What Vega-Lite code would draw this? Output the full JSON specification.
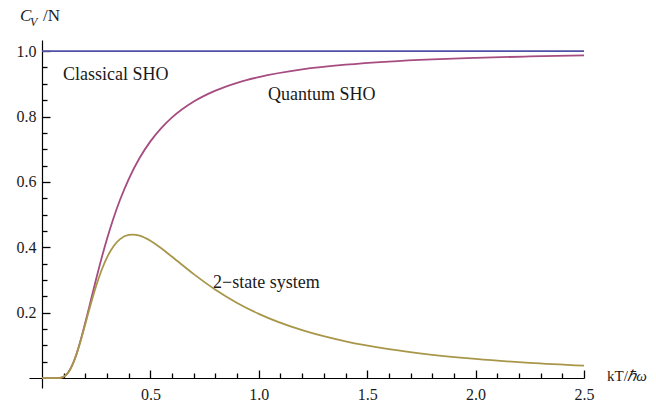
{
  "$schema": "https://vega.github.io/schema/vega-lite/v6.json",
  "width": 555,
  "height": 348,
  "autosize": {"type": "none"},
  "padding": {"left": 29, "top": 40, "right": 72, "bottom": 19},
  "background": "white",
  "config": {
    "view": {"stroke": null},
    "axis": {
      "grid": false,
      "labelFont": "Liberation Serif",
      "labelFontSize": 16,
      "labelColor": "#1a1a1a",
      "domainColor": "#000000",
      "tickColor": "#000000",
      "domainWidth": 1.2,
      "tickWidth": 1.3
    }
  },
  "resolve": {"axis": {"x": "independent", "y": "independent"}},
  "datasets": {
    "curves": [
      {"t": 0, "c": 1, "s": "classical"},
      {"t": 2.5, "c": 1, "s": "classical"},
      {"t": 0, "c": 0, "s": "quantum"},
      {"t": 0.05, "c": 0, "s": "quantum"},
      {"t": 0.08, "c": 0.0006, "s": "quantum"},
      {"t": 0.1, "c": 0.00454, "s": "quantum"},
      {"t": 0.12, "c": 0.0167, "s": "quantum"},
      {"t": 0.14, "c": 0.0404, "s": "quantum"},
      {"t": 0.16, "c": 0.0757, "s": "quantum"},
      {"t": 0.18, "c": 0.12025, "s": "quantum"},
      {"t": 0.2, "c": 0.17074, "s": "quantum"},
      {"t": 0.22, "c": 0.22405, "s": "quantum"},
      {"t": 0.25, "c": 0.30409, "s": "quantum"},
      {"t": 0.28, "c": 0.37967, "s": "quantum"},
      {"t": 0.3, "c": 0.42625, "s": "quantum"},
      {"t": 0.33, "c": 0.4897, "s": "quantum"},
      {"t": 0.36, "c": 0.54547, "s": "quantum"},
      {"t": 0.4, "c": 0.60889, "s": "quantum"},
      {"t": 0.45, "c": 0.67316, "s": "quantum"},
      {"t": 0.5, "c": 0.72406, "s": "quantum"},
      {"t": 0.55, "c": 0.7647, "s": "quantum"},
      {"t": 0.6, "c": 0.79745, "s": "quantum"},
      {"t": 0.7, "c": 0.84594, "s": "quantum"},
      {"t": 0.8, "c": 0.87937, "s": "quantum"},
      {"t": 0.9, "c": 0.9032, "s": "quantum"},
      {"t": 1.0, "c": 0.92067, "s": "quantum"},
      {"t": 1.2, "c": 0.94408, "s": "quantum"},
      {"t": 1.4, "c": 0.95852, "s": "quantum"},
      {"t": 1.6, "c": 0.96808, "s": "quantum"},
      {"t": 1.8, "c": 0.97469, "s": "quantum"},
      {"t": 2.0, "c": 0.97943, "s": "quantum"},
      {"t": 2.25, "c": 0.9837, "s": "quantum"},
      {"t": 2.5, "c": 0.98677, "s": "quantum"},
      {"t": 0, "c": 0, "s": "two"},
      {"t": 0.05, "c": 0, "s": "two"},
      {"t": 0.08, "c": 0.0006, "s": "two"},
      {"t": 0.1, "c": 0.00454, "s": "two"},
      {"t": 0.12, "c": 0.01668, "s": "two"},
      {"t": 0.14, "c": 0.04027, "s": "two"},
      {"t": 0.16, "c": 0.07512, "s": "two"},
      {"t": 0.18, "c": 0.1184, "s": "two"},
      {"t": 0.2, "c": 0.1662, "s": "two"},
      {"t": 0.22, "c": 0.21474, "s": "two"},
      {"t": 0.25, "c": 0.28261, "s": "two"},
      {"t": 0.28, "c": 0.33927, "s": "two"},
      {"t": 0.3, "c": 0.36955, "s": "two"},
      {"t": 0.33, "c": 0.40361, "s": "two"},
      {"t": 0.36, "c": 0.42523, "s": "two"},
      {"t": 0.4, "c": 0.43815, "s": "two"},
      {"t": 0.42, "c": 0.43917, "s": "two"},
      {"t": 0.45, "c": 0.43563, "s": "two"},
      {"t": 0.5, "c": 0.41997, "s": "two"},
      {"t": 0.55, "c": 0.39719, "s": "two"},
      {"t": 0.6, "c": 0.3712, "s": "two"},
      {"t": 0.7, "c": 0.31826, "s": "two"},
      {"t": 0.8, "c": 0.27047, "s": "two"},
      {"t": 0.9, "c": 0.23004, "s": "two"},
      {"t": 1.0, "c": 0.19661, "s": "two"},
      {"t": 1.2, "c": 0.14664, "s": "two"},
      {"t": 1.4, "c": 0.11257, "s": "two"},
      {"t": 1.6, "c": 0.08871, "s": "two"},
      {"t": 1.8, "c": 0.0715, "s": "two"},
      {"t": 2.0, "c": 0.05875, "s": "two"},
      {"t": 2.25, "c": 0.04702, "s": "two"},
      {"t": 2.5, "c": 0.03844, "s": "two"}
    ],
    "labels": [
      {"t": 0.097, "c": 0.9266, "label": "Classical SHO"},
      {"t": 1.042, "c": 0.8654, "label": "Quantum SHO"},
      {"t": 0.789, "c": 0.2905, "label": "2\u2212state system"}
    ]
  },
  "layer": [
    {
      "data": {"name": "curves"},
      "transform": [{"filter": "datum.s === 'classical'"}],
      "mark": {"type": "line", "color": "#5050a6", "strokeWidth": 1.8, "clip": false},
      "encoding": {
        "x": {
          "field": "t",
          "type": "quantitative",
          "scale": {"domain": [-0.06, 2.5], "nice": false, "zero": false},
          "axis": {
            "orient": "bottom",
            "title": null,
            "offset": -10,
            "values": [0.5, 1.0, 1.5, 2.0, 2.5],
            "format": ".1f",
            "tickSize": -8,
            "labelPadding": 16,
            "labelFlush": false,
            "labelOverlap": false
          }
        },
        "y": {
          "field": "c",
          "type": "quantitative",
          "scale": {"domain": [-0.03, 1.034], "nice": false, "zero": false},
          "axis": {
            "orient": "left",
            "title": null,
            "offset": -13,
            "values": [0.2, 0.4, 0.6, 0.8, 1.0],
            "format": ".1f",
            "tickSize": -8,
            "labelPadding": 14,
            "labelFlush": false,
            "labelOverlap": false
          }
        }
      }
    },
    {
      "data": {"name": "curves"},
      "transform": [{"filter": "datum.s === 'quantum'"}],
      "mark": {"type": "line", "color": "#a64c80", "strokeWidth": 1.8, "interpolate": "monotone", "clip": false},
      "encoding": {
        "x": {
          "field": "t",
          "type": "quantitative",
          "axis": {
            "orient": "top",
            "title": null,
            "offset": -338,
            "domain": false,
            "labels": false,
            "values": [0.1, 0.2, 0.3, 0.4, 0.6, 0.7, 0.8, 0.9, 1.1, 1.2, 1.3, 1.4, 1.6, 1.7, 1.8, 1.9, 2.1, 2.2, 2.3, 2.4],
            "tickSize": 5
          }
        },
        "y": {
          "field": "c",
          "type": "quantitative",
          "axis": {
            "orient": "right",
            "title": null,
            "offset": -542,
            "domain": false,
            "labels": false,
            "values": [0.05, 0.1, 0.15, 0.25, 0.3, 0.35, 0.45, 0.5, 0.55, 0.65, 0.7, 0.75, 0.85, 0.9, 0.95],
            "tickSize": 5
          }
        }
      }
    },
    {
      "data": {"name": "curves"},
      "transform": [{"filter": "datum.s === 'two'"}],
      "mark": {"type": "line", "color": "#a8974a", "strokeWidth": 1.8, "interpolate": "monotone", "clip": false},
      "encoding": {
        "x": {"field": "t", "type": "quantitative", "axis": null},
        "y": {"field": "c", "type": "quantitative", "axis": null}
      }
    },
    {
      "data": {"name": "labels"},
      "mark": {"type": "text", "align": "left", "baseline": "middle", "font": "Liberation Serif", "fontSize": 18, "color": "#1a1a1a"},
      "encoding": {
        "x": {"field": "t", "type": "quantitative", "axis": null},
        "y": {"field": "c", "type": "quantitative", "axis": null},
        "text": {"field": "label"}
      }
    },
    {
      "data": {"values": [{"t": -0.1015, "c": 1.0917, "label": "C"}]},
      "mark": {"type": "text", "align": "left", "baseline": "alphabetic", "font": "Liberation Serif", "fontStyle": "italic", "fontSize": 17, "color": "#1a1a1a"},
      "encoding": {
        "x": {"field": "t", "type": "quantitative", "axis": null},
        "y": {"field": "c", "type": "quantitative", "axis": null},
        "text": {"field": "label"}
      }
    },
    {
      "data": {"values": [{"t": -0.0554, "c": 1.0765, "label": "V"}]},
      "mark": {"type": "text", "align": "left", "baseline": "alphabetic", "font": "Liberation Serif", "fontStyle": "italic", "fontSize": 12, "color": "#1a1a1a"},
      "encoding": {
        "x": {"field": "t", "type": "quantitative", "axis": null},
        "y": {"field": "c", "type": "quantitative", "axis": null},
        "text": {"field": "label"}
      }
    },
    {
      "data": {"values": [{"t": 0.0046, "c": 1.0917, "label": "/N"}]},
      "mark": {"type": "text", "align": "left", "baseline": "alphabetic", "font": "Liberation Serif", "fontSize": 17, "color": "#1a1a1a"},
      "encoding": {
        "x": {"field": "t", "type": "quantitative", "axis": null},
        "y": {"field": "c", "type": "quantitative", "axis": null},
        "text": {"field": "label"}
      }
    },
    {
      "data": {"values": [{"t": 2.606, "c": 0.006, "label": "kT/"}]},
      "mark": {"type": "text", "align": "left", "baseline": "middle", "font": "Liberation Serif", "fontSize": 15, "color": "#1a1a1a"},
      "encoding": {
        "x": {"field": "t", "type": "quantitative", "axis": null},
        "y": {"field": "c", "type": "quantitative", "axis": null},
        "text": {"field": "label"}
      }
    },
    {
      "data": {"values": [{"t": 2.7, "c": 0.006, "label": "\u210f\u03c9"}]},
      "mark": {"type": "text", "align": "left", "baseline": "middle", "font": "Liberation Serif", "fontStyle": "italic", "fontSize": 15, "color": "#1a1a1a"},
      "encoding": {
        "x": {"field": "t", "type": "quantitative", "axis": null},
        "y": {"field": "c", "type": "quantitative", "axis": null},
        "text": {"field": "label"}
      }
    }
  ]
}
